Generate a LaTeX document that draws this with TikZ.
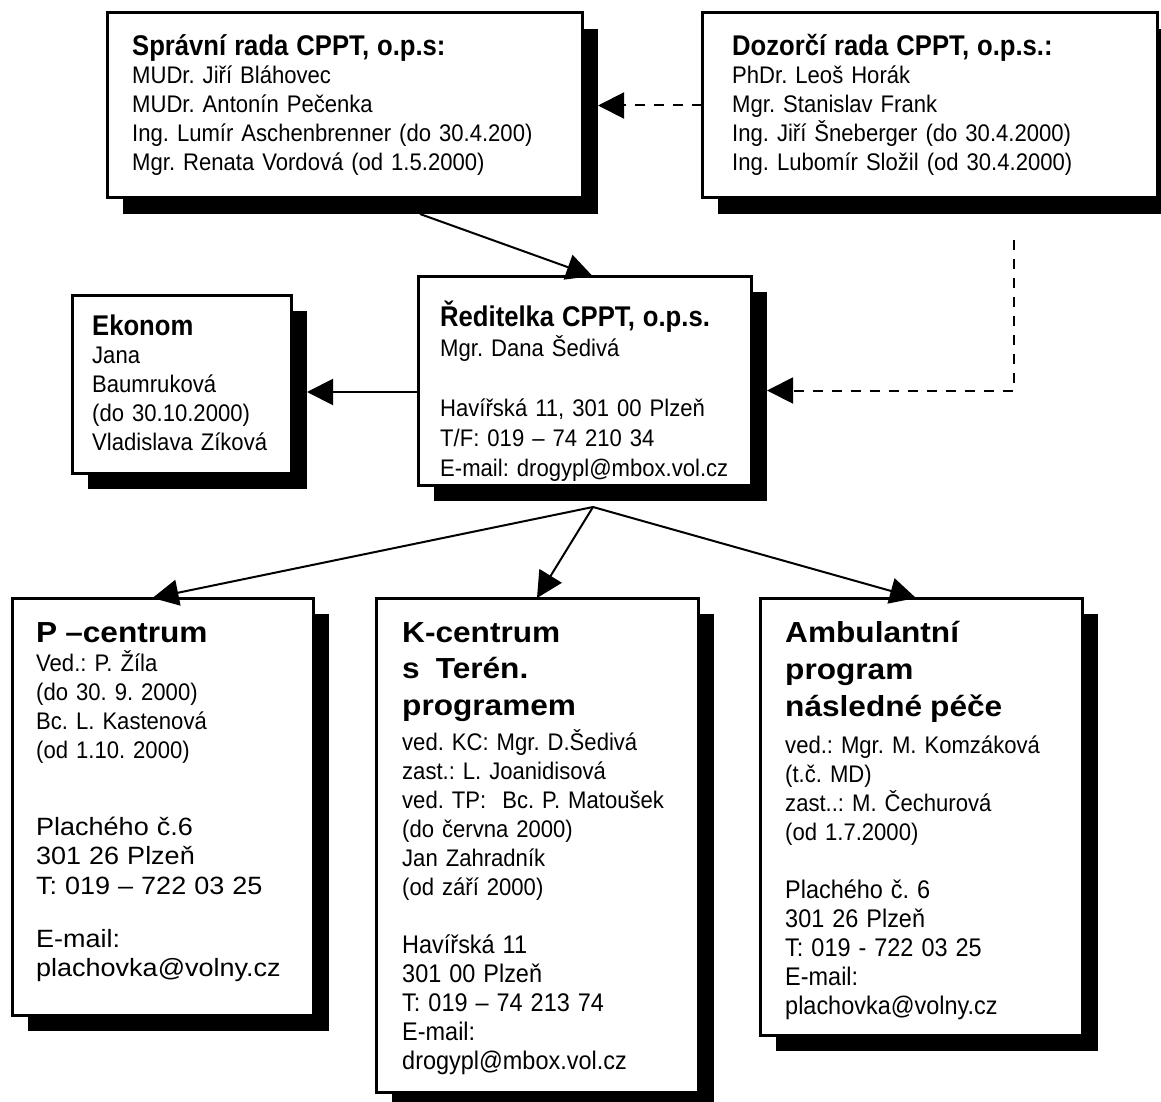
\documentclass[tikz,border=0pt]{standalone}
\usepackage{fontspec}
\setmainfont[FakeStretch=0.92]{Liberation Sans}
\newfontfamily\headfam[FakeStretch=0.9]{Liberation Sans}
\newfontfamily\bigheadfam[FakeStretch=1.09]{Liberation Sans}
\newfontfamily\widefam[FakeStretch=1.08]{Liberation Sans}
\usetikzlibrary{arrows.meta,shadows,positioning}
\frenchspacing

\newcommand{\txtfont}{\fontsize{24}{29}\selectfont}
\newcommand{\addrfont}{\fontsize{25.5}{29}\selectfont}
\newcommand{\headfont}{\headfam\fontsize{28.5}{29}\selectfont\bfseries}
\newcommand{\bigheadfont}{\bigheadfam\fontsize{29}{29}\selectfont\bfseries}

\begin{document}
\begin{tikzpicture}[x=1pt,y=-1pt,
        unit/.style={draw, line width=3pt, fill=white, inner sep=0pt, outer sep=0pt,
            anchor=north west,
            drop shadow={shadow xshift=16pt, shadow yshift=-16pt, opacity=1, fill=black}},
        txt/.style={anchor=base west, inner sep=0pt, text width=440pt, align=left, font=\txtfont},
        arr/.style={line width=2pt, -{Triangle[length=26pt,width=26pt]}},
        darr/.style={arr, dash pattern=on 10pt off 9pt}]
        \useasboundingbox (0,0) rectangle (1161,1102);

        % rady
        \node[unit, minimum width=475pt, minimum height=185pt] (tl) at (107,13) {};
        \node[txt] (tltxt) at ([shift={(25,43)}]tl.north west)
            {{\headfont Správní rada CPPT, o.p.s:}\\[-1pt]
            MUDr. Jiří Bláhovec\\
            MUDr. Antonín Pečenka\\
            Ing. Lumír Aschenbrenner (do 30.4.200)\\
            Mgr. Renata Vordová (od 1.5.2000)};

        \node[unit, minimum width=455pt, minimum height=185pt] (tr) at (702,13) {};
        \node[txt] (trtxt) at ([shift={(30,43)}]tr.north west)
            {{\headfont Dozorčí rada CPPT, o.p.s.:}\\[-1pt]
            PhDr. Leoš Horák\\
            Mgr. Stanislav Frank\\
            Ing. Jiří Šneberger (do 30.4.2000)\\
            Ing. Lubomír Složil (od 30.4.2000)};

        % reditelka a ekonom
        \node[unit, minimum width=333pt, minimum height=209pt] (c) at (418,276) {};
        \node[txt, font=\fontsize{24}{30}\selectfont] (ctxt) at ([shift={(22,50)}]c.north west)
            {{\headfont Ředitelka CPPT, o.p.s.}\\
            Mgr. Dana Šedivá\\[30pt]
            Havířská 11, 301 00 Plzeň\\
            T/F: 019 – 74 210 34\\
            E-mail: drogypl@mbox.vol.cz};

        \node[unit, minimum width=219pt, minimum height=178pt] (e) at (72,295) {};
        \node[txt] (etxt) at ([shift={(20,40)}]e.north west)
            {{\headfont Ekonom}\\[-1pt]
            Jana\\
            Baumruková\\
            (do 30.10.2000)\\
            Vladislava Zíková};

        % strediska
        \node[unit, minimum width=301pt, minimum height=417pt] (p) at (12,598) {};
        \node[txt] (ptxt) at ([shift={(24,44)}]p.north west)
            {{\bigheadfont P –centrum}\\
            Ved.: P. Žíla\\
            (do 30. 9. 2000)\\
            Bc. L. Kastenová\\
            (od 1.10. 2000)\\[47.5pt]
            {\widefam\fontsize{25}{29.5}\selectfont Plachého č.6\\
            301 26 Plzeň\\
            T: 019 – 722 03 25\\[23.5pt]
            E-mail:\\
            plachovka@volny.cz}};

        \node[unit, minimum width=322pt, minimum height=494pt] (k) at (376,598) {};
        \node[txt] (ktxt) at ([shift={(26,44)}]k.north west)
            {{\bigheadfont K-centrum\\[7pt]
            s\ \ Terén.\\[8pt]
            programem}\\[6pt]
            ved. KC: Mgr. D.Šedivá\\
            zast.: L. Joanidisová\\
            ved. TP:\ \ Bc. P. Matoušek\\
            (do června 2000)\\
            Jan Zahradník\\
            (od září 2000)\\[29pt]
            {\addrfont Havířská 11\\
            301 00 Plzeň\\
            T: 019 – 74 213 74\\
            E-mail:\\
            drogypl@mbox.vol.cz}};

        \node[unit, minimum width=322pt, minimum height=437pt] (a) at (760,598) {};
        \node[txt] (atxt) at ([shift={(25,44)}]a.north west)
            {{\bigheadfont Ambulantní\\[8pt]
            program\\[8pt]
            následné péče}\\[8pt]
            ved.: Mgr. M. Komzáková\\
            (t.č. MD)\\
            zast..: M. Čechurová\\
            (od 1.7.2000)\\[29pt]
            {\addrfont Plachého č. 6\\
            301 26 Plzeň\\
            T: 019 - 722 03 25\\
            E-mail:\\
            plachovka@volny.cz}};

        % spojnice
        \coordinate (tlout) at (420,214);
        \coordinate (trout) at (1014,240);
        \coordinate (fork) at (593,507);

        \draw[arr] (tlout) -- ([xshift=8pt]c.north);
        \draw[darr] (tr.west) -- ([xshift=16pt]tl.east);
        \draw[darr] (trout) |- ([shift={(16,10)}]c.east);
        \draw[arr] ([shift={(0,11.5)}]c.west) -- ([shift={(16,8)}]e.east);

        \draw[arr] (fork) -- ([xshift=-10pt]p.north);
        \draw[arr] (fork) -- (k.north);
        \draw[arr] (fork) -- ([xshift=-5pt]a.north);
\end{tikzpicture}
\end{document}
